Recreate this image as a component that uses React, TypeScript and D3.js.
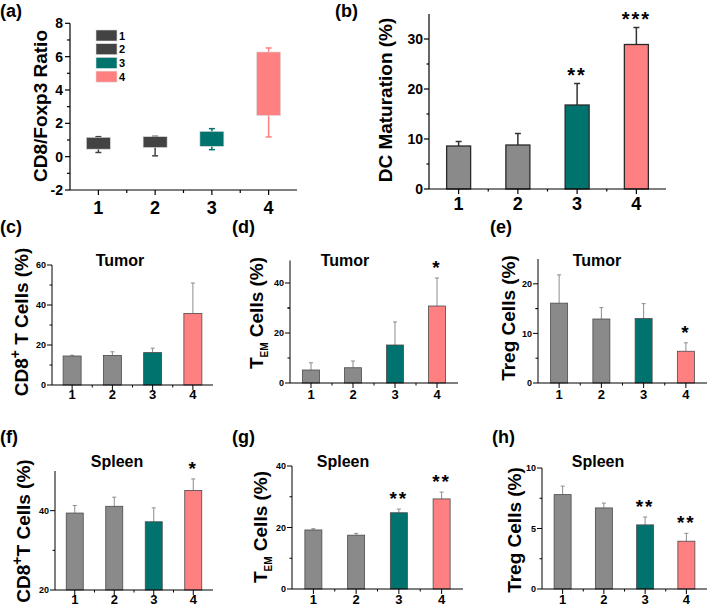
import React from 'react';
import * as d3 from 'd3';

const groups = ['1', '2', '3', '4'];
const barColors = ['#8a8a8a', '#8a8a8a', '#00736f', '#ff8080'];
const boxColors = ['#434343', '#434343', '#00736f', '#ff8080'];

// (a) CD8/Foxp3 ratio box plot
const ratioMin = [0.25, 0.05, 0.42, 1.18];
const ratioQ1 = [0.45, 0.55, 0.62, 2.47];
const ratioQ3 = [1.16, 1.2, 1.52, 6.28];
const ratioMax = [1.2, 1.22, 1.68, 6.52];
const ratioTicks = [-2, 0, 2, 4, 6, 8];

// (b) DC maturation
const dcMean = [8.6, 8.8, 16.8, 28.9];
const dcSD = [0.9, 2.3, 4.3, 3.4];
const dcStars = ['', '', '**', '***'];
const dcTicks = [0, 10, 20, 30];

// (c) Tumor CD8+ T cells
const tumorCD8Mean = [14.5, 14.8, 16.2, 35.8];
const tumorCD8SD = [0.4, 1.8, 2.2, 15.2];
const tumorCD8Stars = ['', '', '', ''];
const tumorCD8Ticks = [0, 20, 40, 60];

// (d) Tumor TEM cells
const tumorTemMean = [5.2, 6.1, 15.2, 30.8];
const tumorTemSD = [2.9, 2.7, 9.2, 11.2];
const tumorTemStars = ['', '', '', '*'];
const tumorTemTicks = [0, 20, 40];

// (e) Tumor Treg cells
const tumorTregMean = [16.1, 12.9, 13.0, 6.4];
const tumorTregSD = [5.7, 2.3, 3.0, 1.7];
const tumorTregStars = ['', '', '', '*'];
const tumorTregTicks = [0, 10, 20];

// (f) Spleen CD8+ T cells
const spleenCD8Mean = [39.4, 41.1, 37.2, 45.1];
const spleenCD8SD = [1.9, 2.3, 3.5, 2.9];
const spleenCD8Stars = ['', '', '', '*'];
const spleenCD8Ticks = [20, 40];

// (g) Spleen TEM cells
const spleenTemMean = [19.2, 17.5, 24.8, 29.3];
const spleenTemSD = [0.4, 0.6, 1.2, 2.2];
const spleenTemStars = ['', '', '**', '**'];
const spleenTemTicks = [0, 20, 40];

// (h) Spleen Treg cells
const spleenTregMean = [7.8, 6.7, 5.3, 3.95];
const spleenTregSD = [0.7, 0.4, 0.65, 0.65];
const spleenTregStars = ['', '', '**', '**'];
const spleenTregTicks = [0, 5, 10];

const FONT = '"Liberation Sans", Arial, Helvetica, sans-serif';

function midpoints(arr: number[]) {
  const out: number[] = [];
  for (let i = 0; i < arr.length - 1; i++) out.push((arr[i] + arr[i + 1]) / 2);
  return out;
}

type BarProps = {
  xr: [number, number];
  yr: [number, number];
  domain: [number, number];
  ticks: number[];
  extraMinor?: number[];
  means: number[];
  sds: number[];
  stars: string[];
  bw: number;
  errColor: string;
  errW: number;
  capW: number;
  barStroke: string;
  barStrokeW: number;
  tickFont: number;
  xFont: number;
  xLabelY: number;
  tickLen: number;
  starGap: number;
  starFont: number;
  axisW: number;
};

function BarPanel(p: BarProps) {
  const x = d3.scalePoint<string>().domain(groups).range(p.xr).padding(0.5);
  const y = d3.scaleLinear().domain(p.domain).range(p.yr);
  const base = y(p.domain[0]);
  const minor = midpoints(p.ticks).concat(p.extraMinor || []);
  const xMinor = midpoints(groups.map((g) => x(g) as number));
  return (
    <g>
      {groups.map((g, i) => {
        const cx = x(g) as number;
        const top = y(p.means[i]);
        const et = y(p.means[i] + p.sds[i]);
        return (
          <g key={g}>
            <line x1={cx} x2={cx} y1={top} y2={et} stroke={p.errColor} strokeWidth={p.errW} />
            <line x1={cx - p.capW / 2} x2={cx + p.capW / 2} y1={et} y2={et} stroke={p.errColor} strokeWidth={p.errW} />
            <rect x={cx - p.bw / 2} y={top} width={p.bw} height={base - top} fill={barColors[i]} stroke={p.barStroke} strokeWidth={p.barStrokeW} />
            {p.stars[i] ? (
              <text x={cx} y={et - p.starGap} textAnchor="middle" fontSize={p.starFont} fontWeight="bold" letterSpacing={2} fontFamily={FONT}>
                {p.stars[i]}
              </text>
            ) : null}
          </g>
        );
      })}
      <line x1={p.xr[0]} x2={p.xr[0]} y1={p.yr[0]} y2={p.yr[1]} stroke="#000" strokeWidth={p.axisW} />
      <line x1={p.xr[0]} x2={p.xr[1]} y1={p.yr[0]} y2={p.yr[0]} stroke="#000" strokeWidth={p.axisW} />
      {p.ticks.map((t) => (
        <g key={'t' + t}>
          <line x1={p.xr[0] - p.tickLen} x2={p.xr[0]} y1={y(t)} y2={y(t)} stroke="#000" strokeWidth={p.axisW} />
          <text x={p.xr[0] - p.tickLen - 1} y={y(t)} dy="0.36em" textAnchor="end" fontSize={p.tickFont} fontWeight="bold" fontFamily={FONT}>
            {t}
          </text>
        </g>
      ))}
      {minor.map((t) => (
        <line key={'m' + t} x1={p.xr[0] - p.tickLen / 2} x2={p.xr[0]} y1={y(t)} y2={y(t)} stroke="#000" strokeWidth={p.axisW} />
      ))}
      {groups.map((g) => (
        <g key={'x' + g}>
          <line x1={x(g) as number} x2={x(g) as number} y1={p.yr[0]} y2={p.yr[0] + p.tickLen} stroke="#000" strokeWidth={p.axisW} />
          <text x={x(g) as number} y={p.xLabelY} textAnchor="middle" fontSize={p.xFont} fontWeight="bold" fontFamily={FONT}>
            {g}
          </text>
        </g>
      ))}
      {xMinor.map((m) => (
        <line key={'xm' + m} x1={m} x2={m} y1={p.yr[0]} y2={p.yr[0] + p.tickLen / 2} stroke="#000" strokeWidth={p.axisW} />
      ))}
    </g>
  );
}

function BoxPanel() {
  const xr: [number, number] = [70, 297];
  const yr: [number, number] = [190, 23.3];
  const x = d3.scalePoint<string>().domain(groups).range(xr).padding(0.5);
  const y = d3.scaleLinear().domain([-2, 8]).range(yr);
  const bw = 24;
  const minor = midpoints(ratioTicks);
  const xMinor = midpoints(groups.map((g) => x(g) as number));
  return (
    <g>
      {groups.map((g, i) => {
        const cx = x(g) as number;
        const c = boxColors[i];
        return (
          <g key={g}>
            <line x1={cx} x2={cx} y1={y(ratioMin[i])} y2={y(ratioMax[i])} stroke={c} strokeWidth={1.5} />
            <line x1={cx - 3} x2={cx + 3} y1={y(ratioMin[i])} y2={y(ratioMin[i])} stroke={c} strokeWidth={1.5} />
            <line x1={cx - 3} x2={cx + 3} y1={y(ratioMax[i])} y2={y(ratioMax[i])} stroke={c} strokeWidth={1.5} />
            <rect x={cx - bw / 2} y={y(ratioQ3[i])} width={bw} height={y(ratioQ1[i]) - y(ratioQ3[i])} fill={c} stroke="#ddd" strokeWidth={0.6} />
          </g>
        );
      })}
      {groups.map((g, i) => (
        <g key={'lg' + g}>
          <rect x={96} y={30 + i * 13.7} width={21} height={11} fill={boxColors[i]} stroke="#ddd" strokeWidth={0.6} />
          <text x={119} y={30 + i * 13.7 + 9.5} fontSize={11} fontWeight="bold" fontFamily={FONT}>
            {g}
          </text>
        </g>
      ))}
      <line x1={xr[0]} x2={xr[0]} y1={yr[0]} y2={yr[1]} stroke="#000" strokeWidth={1.2} />
      <line x1={xr[0]} x2={xr[1]} y1={yr[0]} y2={yr[0]} stroke="#000" strokeWidth={1.2} />
      {ratioTicks.map((t) => (
        <g key={'t' + t}>
          <line x1={xr[0] - 5} x2={xr[0]} y1={y(t)} y2={y(t)} stroke="#000" strokeWidth={1.2} />
          <text x={xr[0] - 7} y={y(t)} dy="0.36em" textAnchor="end" fontSize={14} fontWeight="bold" fontFamily={FONT}>
            {t}
          </text>
        </g>
      ))}
      {minor.map((t) => (
        <line key={'m' + t} x1={xr[0] - 3} x2={xr[0]} y1={y(t)} y2={y(t)} stroke="#000" strokeWidth={1.2} />
      ))}
      {groups.map((g) => (
        <g key={'x' + g}>
          <line x1={x(g) as number} x2={x(g) as number} y1={yr[0]} y2={yr[0] + 5} stroke="#000" strokeWidth={1.2} />
          <text x={x(g) as number} y={213.5} textAnchor="middle" fontSize={18} fontWeight="bold" fontFamily={FONT}>
            {g}
          </text>
        </g>
      ))}
      {xMinor.map((m) => (
        <line key={'xm' + m} x1={m} x2={m} y1={yr[0]} y2={yr[0] + 3} stroke="#000" strokeWidth={1.2} />
      ))}
    </g>
  );
}

function Txt({ x, y, size, children, anchor = 'start' }: any) {
  return (
    <text x={x} y={y} fontSize={size} fontWeight="bold" fontFamily={FONT} textAnchor={anchor}>
      {children}
    </text>
  );
}

function VLabel({ x, y, children }: any) {
  return (
    <text transform={`translate(${x},${y}) rotate(-90)`} textAnchor="middle" fontSize={19} fontWeight="bold" fontFamily={FONT}>
      {children}
    </text>
  );
}

const small = {
  errColor: '#8c8c8c',
  errW: 1,
  capW: 4,
  barStroke: '#4a4a4a',
  barStrokeW: 0.8,
  tickFont: 9,
  xFont: 13,
  tickLen: 5,
  starGap: 4,
  starFont: 19,
  axisW: 1,
};

export default function App() {
  return (
    <svg width={709} height={606} style={{ position: 'absolute', left: 0, top: 0, background: '#fff' }}>
      {/* panel letters */}
      <Txt x={0} y={17} size={18}>(a)</Txt>
      <Txt x={335} y={17} size={18}>(b)</Txt>
      <Txt x={0} y={233} size={18}>(c)</Txt>
      <Txt x={232} y={233} size={18}>(d)</Txt>
      <Txt x={490} y={233} size={18}>(e)</Txt>
      <Txt x={0} y={443} size={18}>(f)</Txt>
      <Txt x={232} y={443} size={18}>(g)</Txt>
      <Txt x={492} y={443} size={18}>(h)</Txt>

      {/* (a) */}
      <BoxPanel />
      <VLabel x={47} y={106}>CD8/Foxp3 Ratio</VLabel>

      {/* (b) */}
      <BarPanel
        xr={[429, 666]}
        yr={[189, 14]}
        domain={[0, 35]}
        ticks={dcTicks}
        means={dcMean}
        sds={dcSD}
        stars={dcStars}
        bw={24}
        errColor="#333"
        errW={1.5}
        capW={6}
        barStroke="#2a2a2a"
        barStrokeW={1.3}
        tickFont={14}
        xFont={18}
        xLabelY={209.5}
        tickLen={5}
        starGap={2}
        starFont={20}
        axisW={1.2}
      />
      <VLabel x={392} y={100}>DC Maturation (%)</VLabel>

      {/* (c) */}
      <Txt x={120} y={265.5} size={16} anchor="middle">Tumor</Txt>
      <BarPanel {...small} xr={[52, 213]} yr={[385, 265]} domain={[0, 60]} ticks={tumorCD8Ticks} means={tumorCD8Mean} sds={tumorCD8SD} stars={tumorCD8Stars} bw={18} xLabelY={398.7} />
      <VLabel x={28} y={322}>
        CD8<tspan fontSize={14} dy={-8}>+</tspan>
        <tspan dy={8}> T Cells (%)</tspan>
      </VLabel>

      {/* (d) */}
      <Txt x={345} y={265.5} size={16} anchor="middle">Tumor</Txt>
      <BarPanel {...small} xr={[290, 458]} yr={[383, 260.5]} domain={[0, 49]} ticks={tumorTemTicks} extraMinor={[30]} means={tumorTemMean} sds={tumorTemSD} stars={tumorTemStars} bw={17} xLabelY={398.7} />
      <VLabel x={263} y={313}>
        T<tspan fontSize={10} dy={5}>EM</tspan>
        <tspan dy={-5}> Cells (%)</tspan>
      </VLabel>

      {/* (e) */}
      <Txt x={597} y={265.5} size={16} anchor="middle">Tumor</Txt>
      <BarPanel {...small} xr={[538, 707]} yr={[383, 259]} domain={[0, 25]} ticks={tumorTregTicks} extraMinor={[15]} means={tumorTregMean} sds={tumorTregSD} stars={tumorTregStars} bw={17} xLabelY={398.7} />
      <VLabel x={515} y={318}>Treg Cells (%)</VLabel>

      {/* (f) */}
      <Txt x={117} y={466.5} size={16} anchor="middle">Spleen</Txt>
      <BarPanel {...small} xr={[55, 213]} yr={[590, 471]} domain={[20, 50]} ticks={spleenCD8Ticks} means={spleenCD8Mean} sds={spleenCD8SD} stars={spleenCD8Stars} bw={17} xLabelY={603.5} />
      <VLabel x={30} y={531}>
        CD8<tspan fontSize={14} dy={-8}>+</tspan>
        <tspan dy={8}>T Cells (%)</tspan>
      </VLabel>

      {/* (g) */}
      <Txt x={343} y={466.5} size={16} anchor="middle">Spleen</Txt>
      <BarPanel {...small} xr={[292, 463]} yr={[589, 466]} domain={[0, 40]} ticks={spleenTemTicks} means={spleenTemMean} sds={spleenTemSD} stars={spleenTemStars} bw={17} xLabelY={603.5} />
      <VLabel x={267} y={527}>
        T<tspan fontSize={10} dy={5}>EM</tspan>
        <tspan dy={-5}> Cells (%)</tspan>
      </VLabel>

      {/* (h) */}
      <Txt x={598} y={466.5} size={16} anchor="middle">Spleen</Txt>
      <BarPanel {...small} xr={[542, 707]} yr={[589, 468]} domain={[0, 10]} ticks={spleenTregTicks} means={spleenTregMean} sds={spleenTregSD} stars={spleenTregStars} bw={17} xLabelY={603.5} />
      <VLabel x={521} y={530}>Treg Cells (%)</VLabel>
    </svg>
  );
}
